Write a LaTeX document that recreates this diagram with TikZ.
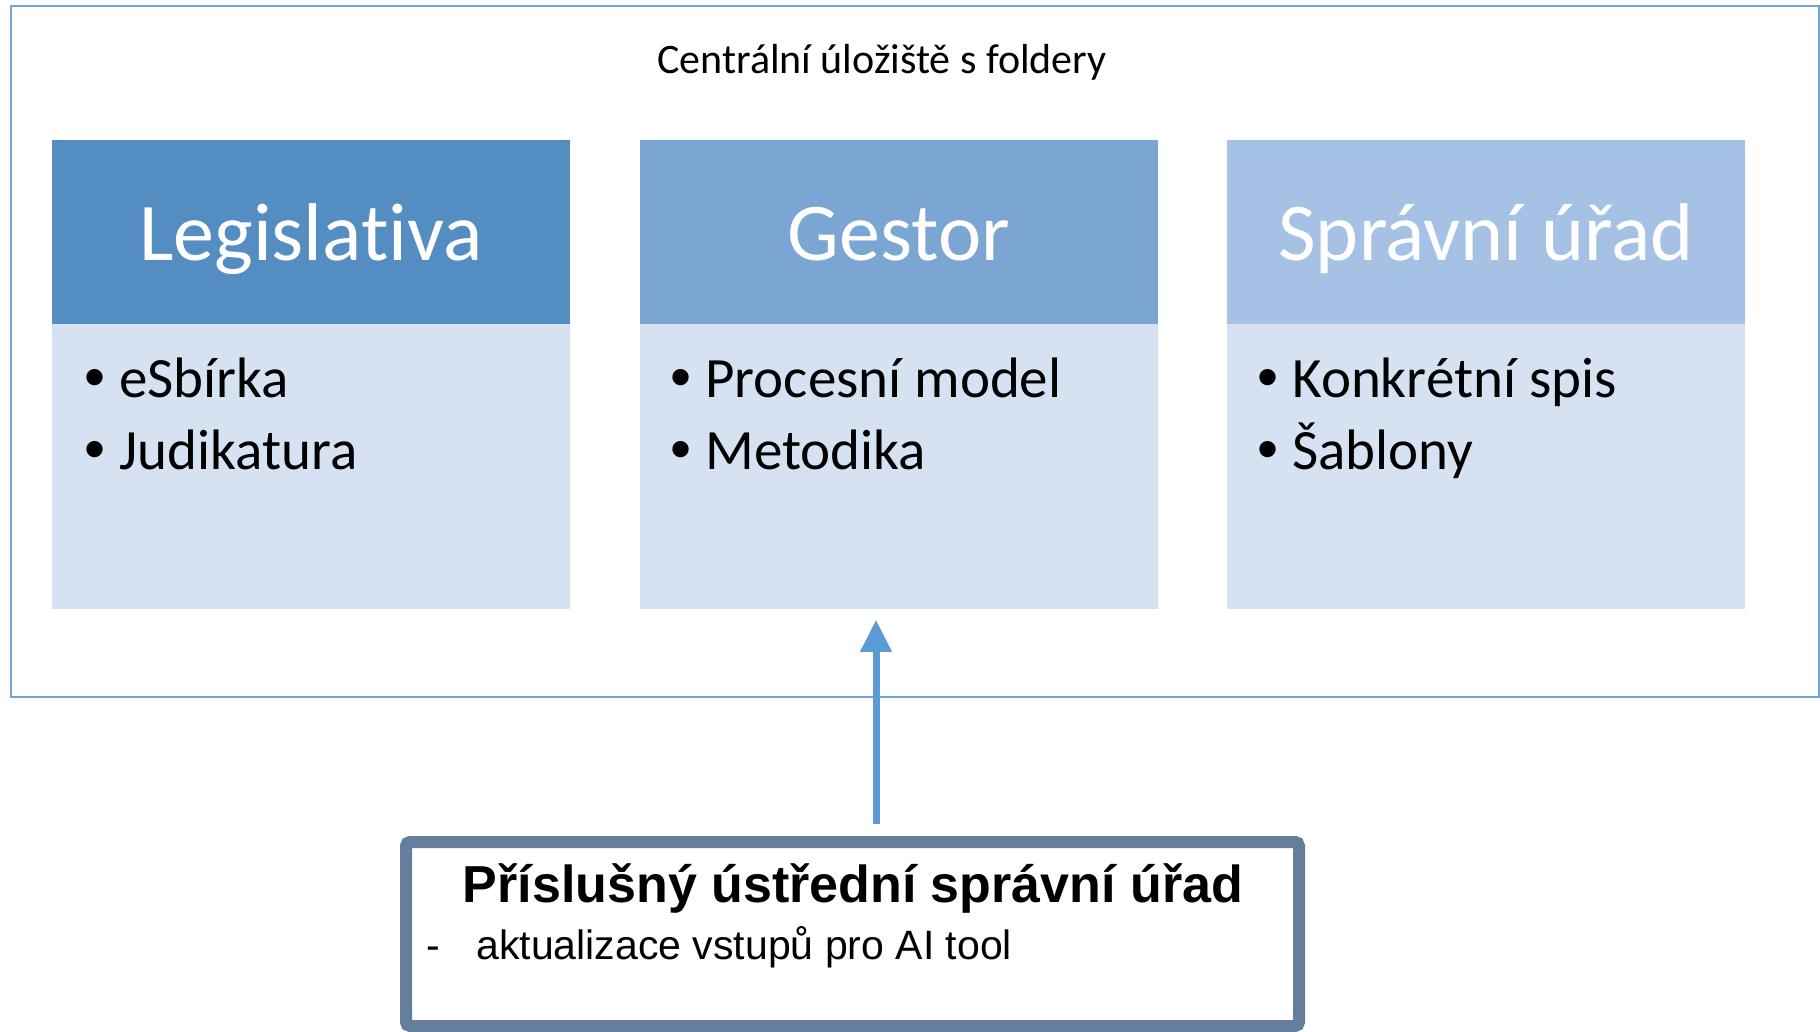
\documentclass[tikz,border=0pt]{standalone}
\usepackage{fontspec}
\setmainfont{Carlito}[Ligatures=NoCommon]
\newfontfamily\condfont{Liberation Sans}
\usetikzlibrary{arrows.meta}
\definecolor{outerc}{HTML}{6FA3D9}
\definecolor{hone}{HTML}{548DC2}
\definecolor{htwo}{HTML}{7BA6D3}
\definecolor{hthree}{HTML}{A5C1E3}
\definecolor{bodyc}{HTML}{D6E1F1}
\definecolor{framec}{HTML}{667E9D}
\definecolor{arrc}{HTML}{5B9BD5}
\tikzset{
  hdr/.style={minimum width=259pt, minimum height=92pt, anchor=north west, inner sep=0pt},
  hdrtext/.style={anchor=base, inner sep=0pt, text=white, font=\fontsize{41}{49}\selectfont},
  bodybox/.style={fill=bodyc, minimum width=259pt, minimum height=142.5pt, anchor=north west, inner sep=0pt},
  item/.style={anchor=base west, inner sep=0pt, font=\fontsize{28.5}{35}\selectfont},
  arr/.style={draw=arrc, line width=3.5pt, -{Triangle[width=15pt,length=16pt]}}
}
\newcommand{\bul}[1]{\makebox[17.5pt][l]{\fontspec{Liberation Sans}\fontsize{30}{35}\selectfont•}#1}
\begin{document}
\begin{tikzpicture}[x=0.5pt,y=-0.5pt]
\useasboundingbox (0,0) rectangle (1820,1032);
\fill[white] (0,0) rectangle (1820,1032);
% outer container
\node[draw=outerc, line width=1pt, minimum width=904pt, minimum height=345.5pt, anchor=north west, inner sep=0pt] (outer) at (10,5) {};
\node[font=\fontsize{21}{25}\selectfont, inner sep=0pt] (title) at (882,62) {Centrální úložiště s foldery};
% column 1
\node[hdr, fill=hone] (h1) at (52,140) {};
\node[bodybox] (b1) at (52,324) {};
\node[item] (b1a) at (84,397) {\bul{eSbírka}};
\node[item] (b1b) at (84,469) {\bul{Judikatura}};
% column 2
\node[hdr, fill=htwo] (h2) at (640,140) {};
\node[bodybox] (b2) at (640,324) {};
\node[item] (b2a) at (670,397) {\bul{Procesní model}};
\node[item] (b2b) at (670,469) {\bul{Metodika}};
% column 3
\node[hdr, fill=hthree] (h3) at (1227,140) {};
\node[bodybox] (b3) at (1227,324) {};
\node[item] (b3a) at (1257,397) {\bul{Konkrétní spis}};
\node[item] (b3b) at (1257,469) {\bul{Šablony}};
% header texts
\node[hdrtext] (t1) at (311,261) {Legislativa};
\node[hdrtext] (t2) at (899,261) {Gestor};
\node[hdrtext] (t3) at (1486,261) {Správní úřad};
% bottom box
\node[draw=framec, line width=6pt, rounded corners=2pt, fill=white, minimum width=446.5pt, minimum height=92pt, inner sep=0pt] (bot) at (852.5,934) {};
\node[anchor=base, inner sep=0pt, font=\condfont\bfseries\fontsize{26}{30}\selectfont] (bottitle) at (853,902) {Příslušný ústřední správní úřad};
\node[anchor=base west, inner sep=0pt, font=\condfont\fontsize{20.5}{25}\selectfont] (dash) at (426,959) {-};
\node[anchor=base west, inner sep=0pt, font=\condfont\fontsize{20.5}{25}\selectfont] (sub) at (476,959) {aktualizace vstupů pro AI tool};
% arrow
\coordinate (ax) at (876,0);
\draw[arr, shorten <=6pt, shorten >=5pt] (bot.north -| ax) -- (b2.south -| ax);
\end{tikzpicture}
\end{document}
